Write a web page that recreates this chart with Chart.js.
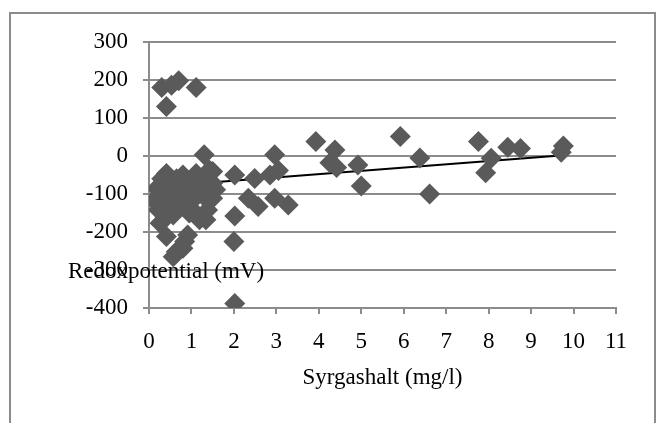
<!DOCTYPE html>
<html>
<head>
<meta charset="utf-8">
<script src="https://cdn.jsdelivr.net/npm/chart.js@4"></script>
<style>
  body { margin: 0; background: #fff; }
</style>
</head>
<body>
<canvas id="myChart" width="659" height="423"></canvas>
<script>
  // Syrgashalt (mg/l) vs Redoxpotential (mV)
  const syrgashalt = [
    0.30, 0.53, 0.70, 1.11, 0.41,
    1.30, 0.41, 0.80, 1.11, 1.50, 1.42, 1.50, 0.18, 0.33, 0.30, 0.41, 0.64, 0.84, 0.91, 1.34,
    1.11, 0.72, 0.88, 0.49, 1.57, 1.30, 0.80, 0.57, 0.26, 0.22, 0.57, 1.19, 1.38, 1.50, 0.20,
    0.35, 0.60, 0.50, 0.70, 1.00, 1.20, 1.00, 0.30, 0.95, 1.25, 0.15, 0.25, 0.65, 1.05,
    2.02, 2.49, 2.85, 3.05, 2.96, 2.34, 2.57, 2.96, 3.28, 2.02, 2.00, 2.02,
    3.93, 4.26, 4.38, 4.42, 4.92, 5.00,
    5.92, 6.38, 6.61, 7.76, 8.06, 7.93, 8.45, 8.75, 9.76, 9.71
  ];
  const redox = [
    180, 186, 198, 180, 130,
    3, -46, -50, -46, -41, -37, -72, -85, -133, -173, -212, -252, -225, -208, -168,
    -151, -129, -111, -98, -89, -107, -243, -265, -177, -142, -155, -168, -142, -111, -110,
    -70, -80, -120, -90, -80, -60, -120, -60, -150, -90, -120, -100, -60, -100,
    -50, -59, -50, -38, 3, -111, -133, -111, -129, -158, -225, -388,
    38, -18, 16, -30, -24, -79,
    51, -5, -100, 38, -6, -44, 23, 20, 26, 10
  ];
  // linear trend line end points
  const trendX = [0.22, 9.77];
  const trendY = [-80, 2];

  const xTitle = 'Syrgashalt (mg/l)';
  const yTitle = 'Redoxpotential (mV)';
  const serif = "'Liberation Serif', 'DejaVu Serif', serif";

  const extras = {
    id: 'extras',
    beforeDraw(chart) {
      const c = chart.ctx;
      c.save();
      c.fillStyle = '#fff';
      c.fillRect(0, 0, chart.width, chart.height);
      c.strokeStyle = '#8c8c8c';
      c.lineWidth = 2;
      c.strokeRect(10, 13, 645, 440);
      c.restore();
    },
    afterDraw(chart) {
      const c = chart.ctx;
      c.save();
      c.font = '23px ' + serif;
      c.fillStyle = '#000';
      c.textAlign = 'left';
      c.textBaseline = 'middle';
      c.fillText(yTitle, 68, 272);
      c.restore();
    }
  };

  const ctx = document.getElementById('myChart');
  new Chart(ctx, {
    type: 'scatter',
    data: {
      datasets: [{
        label: 'Redox',
        data: syrgashalt.map((x, i) => ({ x: x, y: redox[i] })),
        backgroundColor: '#5a5a5a',
        borderColor: '#5a5a5a',
        borderWidth: 0,
        pointStyle: 'rectRot',
        pointRadius: 10.5,
        pointHoverRadius: 10.5
      }, {
        label: 'Trend',
        data: trendX.map((x, i) => ({ x: x, y: trendY[i] })),
        showLine: true,
        borderColor: '#000',
        borderWidth: 2,
        pointRadius: 0
      }]
    },
    options: {
      responsive: false,
      animation: false,
      layout: { padding: { left: 0, top: 42, right: 43, bottom: 0 } },
      plugins: {
        legend: { display: false },
        tooltip: { enabled: false }
      },
      scales: {
        x: {
          type: 'linear',
          min: 0,
          max: 11,
          afterFit: (scale) => { scale.height = 115; },
          ticks: { stepSize: 1, padding: 14, color: '#000', font: { family: serif, size: 23 } },
          grid: { drawOnChartArea: false, drawTicks: true, tickLength: 6, color: '#8c8c8c', lineWidth: 2 },
          border: { color: '#8c8c8c', width: 2 },
          title: {
            display: true,
            text: xTitle,
            color: '#000',
            font: { family: serif, size: 23 },
            padding: { top: 0, bottom: 31 }
          }
        },
        y: {
          min: -400,
          max: 300,
          afterFit: (scale) => { scale.width = 149; },
          ticks: { stepSize: 100, padding: 15, color: '#000', font: { family: serif, size: 23 } },
          grid: { color: '#8c8c8c', lineWidth: 2, tickLength: 6 },
          border: { color: '#8c8c8c', width: 2 }
        }
      }
    },
    plugins: [extras]
  });
</script>
</body>
</html>
